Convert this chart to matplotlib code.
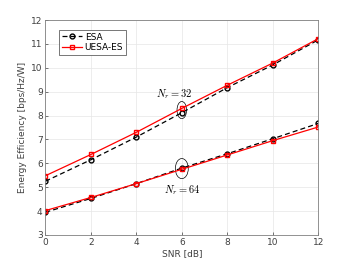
import matplotlib.pyplot as plt
from matplotlib.patches import Ellipse
import numpy as np

# SNR points (dB)
snr = np.array([0, 2, 4, 6, 8, 10, 12])

# Energy efficiency, Nr = 32
esa_32 = np.array([5.25, 6.15, 7.10, 8.12, 9.17, 10.12, 11.17])
uesa_32 = np.array([5.48, 6.37, 7.30, 8.30, 9.27, 10.20, 11.22])

# Energy efficiency, Nr = 64
esa_64 = np.array([3.95, 4.53, 5.15, 5.80, 6.40, 7.03, 7.67])
uesa_64 = np.array([4.02, 4.57, 5.15, 5.75, 6.35, 6.95, 7.52])

gray = '#404040'
plt.rcParams['font.size'] = 6.5
plt.rcParams['mathtext.fontset'] = 'cm'

fig = plt.figure(figsize=(3.52, 2.64), dpi=100)
ax = fig.add_axes([0.129, 0.110, 0.775, 0.814])

ax.plot(snr, esa_32, color='k', linestyle='--', marker='o', markersize=3.5,
        markerfacecolor='none', linewidth=0.9, dashes=(4, 2.5), label='ESA')
ax.plot(snr, uesa_32, color='r', linestyle='-', marker='s', markersize=3.2,
        markerfacecolor='none', linewidth=0.9, label='UESA-ES')
ax.plot(snr, esa_64, color='k', linestyle='--', marker='o', markersize=3.5,
        markerfacecolor='none', linewidth=0.9, dashes=(4, 2.5))
ax.plot(snr, uesa_64, color='r', linestyle='-', marker='s', markersize=3.2,
        markerfacecolor='none', linewidth=0.9)

# ellipses marking the two groups
ax.add_patch(Ellipse((6, 8.23), 0.42, 0.72, fill=False, edgecolor='k', linewidth=0.5))
ax.add_patch(Ellipse((6, 5.78), 0.57, 0.84, fill=False, edgecolor='k', linewidth=0.5))
ax.text(5.66, 8.9, r'$N_r = 32$', ha='center', va='center', fontsize=7.5)
ax.text(6.0, 4.89, r'$N_r = 64$', ha='center', va='center', fontsize=7.5)

ax.set_xlim(0, 12)
ax.set_ylim(3, 12)
ax.set_xticks(np.arange(0, 13, 2))
ax.set_yticks(np.arange(3, 13, 1))
ax.set_xlabel('SNR [dB]', color=gray, labelpad=2)
ax.set_ylabel('Energy Efficiency [bps/Hz/W]', color=gray, labelpad=3)
ax.grid(True, color='#e6e6e6', linewidth=0.5)
ax.set_axisbelow(True)
ax.tick_params(direction='in', length=2.5, width=0.5, colors=gray, pad=2)
for s in ax.spines.values():
    s.set_color('#808080')
    s.set_linewidth(0.6)

leg = ax.legend(loc='upper left', bbox_to_anchor=(0.035, 0.975), fancybox=False,
                edgecolor='#404040', handlelength=2.2, handletextpad=0.3,
                borderpad=0.3, labelspacing=0.2, fontsize=6.5, framealpha=1)
leg.get_frame().set_linewidth(0.5)

fig.savefig('out.png', dpi=100)
